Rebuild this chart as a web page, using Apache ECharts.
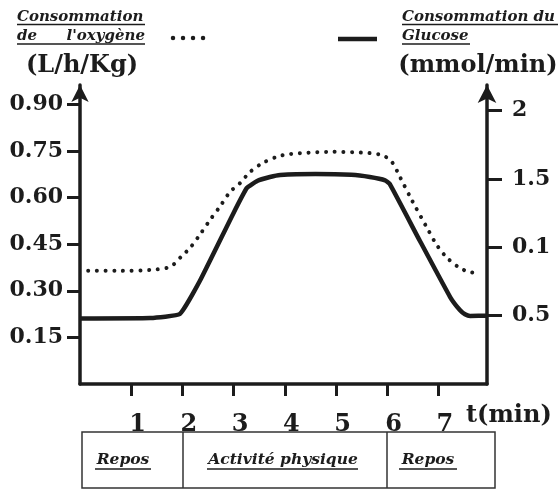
<!DOCTYPE html>
<html><head><meta charset="utf-8">
<script src="https://cdn.jsdelivr.net/npm/echarts@6/dist/echarts.min.js"></script>
<style>html,body{margin:0;padding:0;background:#fff}#c{width:560px;height:490px}</style>
</head><body><div id="c"></div>
<script>
// ---- data ----
const oxygenTime = [0.16, 0.8, 1.37, 1.76, 1.99, 2.15, 2.34, 2.54, 2.73, 2.93, 3.13, 3.32, 3.57, 3.85, 4.1, 4.94, 5.66, 5.92, 6.09, 6.25, 6.48, 6.8, 6.97, 7.17, 7.42, 7.62, 7.77];
const oxygenValues = [0.364, 0.364, 0.367, 0.377, 0.412, 0.438, 0.48, 0.528, 0.57, 0.618, 0.647, 0.682, 0.711, 0.731, 0.74, 0.747, 0.743, 0.735, 0.715, 0.666, 0.592, 0.496, 0.447, 0.406, 0.373, 0.36, 0.357];
const glucoseTime = [0, 1.37, 1.95, 2.34, 2.99, 3.26, 3.46, 3.71, 3.91, 4.6, 5.3, 5.66, 5.96, 6.05, 6.64, 7.23, 7.42, 7.52, 7.62, 7.95];
const glucoseValues = [0.48, 0.483, 0.512, 0.753, 1.244, 1.434, 1.485, 1.514, 1.529, 1.536, 1.53, 1.514, 1.49, 1.463, 1.046, 0.636, 0.541, 0.51, 0.497, 0.5];
const xTickValues = [1, 2, 3, 4, 5, 6, 7];
const xTickLabels = ['1', '2', '3', '4', '5', '6', '7'];
const leftTickValues = [0.15, 0.30, 0.45, 0.60, 0.75, 0.90];
const leftTickLabels = ['0.15', '0.30', '0.45', '0.60', '0.75', '0.90'];
const rightTickValues = [0.5, 1, 1.5, 2];
const rightTickLabels = ['0.5', '0.1', '1.5', '2'];
const phaseLabels = ['Repos', 'Activité physique', 'Repos'];

const ink = '#1c1c1c';
const bigFont = 'DejaVu Serif';
const itFont = 'bold italic 15px "DejaVu Serif"';
const boxFont = 'bold italic 15.5px "DejaVu Serif"';
const chart = echarts.init(document.getElementById('c'), null, {renderer: 'canvas'});

function zip(a, b) { return a.map((v, i) => [v, b[i]]); }
function labelOf(values, labels) { return v => { const i = values.findIndex(x => Math.abs(x - v) < 1e-6); return i >= 0 ? labels[i] : ''; }; }

const axisFontY = {color: ink, fontFamily: bigFont, fontWeight: 'bold', fontSize: 22};

function itText(x, y, t, align, font) {
  return {type: 'text', x: x, y: y, style: {text: t, font: font || itFont, fill: ink, align: align || 'left', verticalAlign: 'middle'}};
}
function hline(x1, x2, y, w) {
  return {type: 'line', shape: {x1: x1, y1: y, x2: x2, y2: y}, style: {stroke: ink, lineWidth: w || 1.3}};
}
function vline(x, y1, y2) {
  return {type: 'line', shape: {x1: x, y1: y1, x2: x, y2: y2}, style: {stroke: '#333', lineWidth: 1.5}};
}

chart.setOption({
  animation: false,
  backgroundColor: '#fff',
  grid: {left: 80, right: 73, top: 85, bottom: 106},
  xAxis: {
    type: 'value', min: 0, max: 7.95,
    axisLine: {show: true, lineStyle: {color: ink, width: 3.5}},
    axisTick: {show: true, customValues: xTickValues, length: 12, lineStyle: {color: ink, width: 3}},
    axisLabel: {customValues: xTickValues, formatter: labelOf(xTickValues, xTickLabels), margin: 29,
      padding: [0, 0, 0, 13],
      color: ink, fontFamily: bigFont, fontWeight: 'bold', fontSize: 24},
    splitLine: {show: false}
  },
  yAxis: [{
    type: 'value', min: 0, max: 0.962, position: 'left',
    axisLine: {show: true, symbol: ['none', 'arrow'], symbolSize: [13, 17], lineStyle: {color: ink, width: 3.5}},
    axisTick: {show: true, customValues: leftTickValues, length: 13, lineStyle: {color: ink, width: 3}},
    axisLabel: Object.assign({customValues: leftTickValues, formatter: labelOf(leftTickValues, leftTickLabels), margin: 17}, axisFontY),
    splitLine: {show: false}
  }, {
    type: 'value', min: 0, max: 2.187, position: 'right',
    axisLine: {show: true, symbol: ['none', 'arrow'], symbolSize: [14, 18], lineStyle: {color: ink, width: 3.5}},
    axisTick: {show: true, customValues: rightTickValues, length: 15, lineStyle: {color: ink, width: 3}},
    axisLabel: Object.assign({customValues: rightTickValues, formatter: labelOf(rightTickValues, rightTickLabels), margin: 25}, axisFontY),
    splitLine: {show: false}
  }],
  series: [{
    name: "Consommation de l'oxygène", type: 'line', yAxisIndex: 0,
    data: zip(oxygenTime, oxygenValues), smooth: 0.3, showSymbol: false,
    lineStyle: {color: ink, width: 4, type: [0.01, 8.7], cap: 'round'}
  }, {
    name: 'Consommation du Glucose', type: 'line', yAxisIndex: 1,
    data: zip(glucoseTime, glucoseValues), smooth: 0.12, showSymbol: false,
    lineStyle: {color: ink, width: 4.5}
  }],
  graphic: [
    // left header
    itText(17, 17, 'Consommation'), hline(17, 145, 24.5),
    itText(17, 36, 'de'), itText(145, 36, "l'oxygène", 'right'), hline(17, 145, 44),
    {type: 'line', shape: {x1: 173, y1: 38, x2: 204, y2: 38}, style: {stroke: ink, lineWidth: 4.5, lineDash: [0.01, 10], lineCap: 'round'}},
    {type: 'text', x: 82, y: 66, style: {text: '(L/h/Kg)', font: 'bold 24px "DejaVu Serif"', fill: ink, align: 'center', verticalAlign: 'middle'}},
    // right header
    hline(338, 377, 39, 4.5),
    itText(402, 17, 'Consommation du'), hline(402, 558, 24.5),
    itText(402, 36, 'Glucose'), hline(402, 470, 44),
    {type: 'text', x: 478, y: 66, style: {text: '(mmol/min)', font: 'bold 24px "DejaVu Serif"', fill: ink, align: 'center', verticalAlign: 'middle'}},
    // x axis unit
    {type: 'text', x: 466, y: 416, style: {text: 't(min)', font: 'bold 24px "DejaVu Serif"', fill: ink, align: 'left', verticalAlign: 'middle'}},
    // phase box
    {type: 'rect', shape: {x: 82, y: 432, width: 413, height: 56}, style: {fill: 'none', stroke: '#333', lineWidth: 1.5}},
    vline(183, 432, 488), vline(387, 432, 488),
    itText(123, 460, phaseLabels[0], 'center', boxFont), hline(95, 151, 469),
    itText(283, 460, phaseLabels[1], 'center', boxFont), hline(207, 358, 469),
    itText(428, 460, phaseLabels[2], 'center', boxFont), hline(399, 457, 469)
  ]
});
</script></body></html>
